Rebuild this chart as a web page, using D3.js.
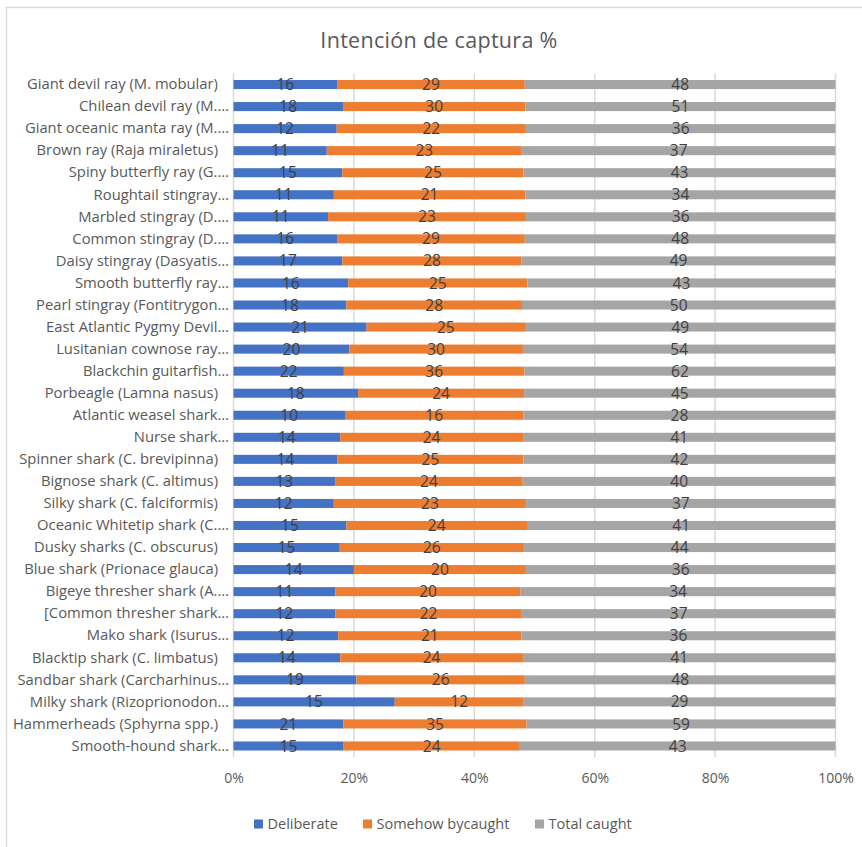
<!DOCTYPE html>
<html>
<head>
<meta charset="utf-8">
<script src="https://cdn.jsdelivr.net/npm/d3@7"></script>
<style>
  html, body { margin: 0; padding: 0; background: #fff; }
  svg { display: block; }
  text { font-family: "Open Sans", Lato, sans-serif; }
</style>
</head>
<body>
<svg id="chart" width="862" height="847"></svg>
<script>
// Species as shown on the category axis (top to bottom)
const categories = [
  "Giant devil ray (M. mobular)",
  "Chilean devil ray (M.\u2026",
  "Giant oceanic manta ray (M.\u2026",
  "Brown ray (Raja miraletus)",
  "Spiny butterfly ray (G.\u2026",
  "Roughtail stingray\u2026",
  "Marbled stingray (D.\u2026",
  "Common stingray (D.\u2026",
  "Daisy stingray (Dasyatis\u2026",
  "Smooth butterfly ray\u2026",
  "Pearl stingray (Fontitrygon\u2026",
  "East Atlantic Pygmy Devil\u2026",
  "Lusitanian cownose ray\u2026",
  "Blackchin guitarfish\u2026",
  "Porbeagle (Lamna nasus)",
  "Atlantic weasel shark\u2026",
  "Nurse shark\u2026",
  "Spinner shark (C. brevipinna)",
  "Bignose shark (C. altimus)",
  "Silky shark (C. falciformis)",
  "Oceanic Whitetip shark (C.\u2026",
  "Dusky sharks (C. obscurus)",
  "Blue shark (Prionace glauca)",
  "Bigeye thresher shark (A.\u2026",
  "[Common thresher shark\u2026",
  "Mako shark (Isurus\u2026",
  "Blacktip shark (C. limbatus)",
  "Sandbar shark (Carcharhinus\u2026",
  "Milky shark (Rizoprionodon\u2026",
  "Hammerheads (Sphyrna spp.)",
  "Smooth-hound shark\u2026"
];

const deliberate = [16, 18, 12, 11, 15, 11, 11, 16, 17, 16, 18, 21, 20, 22, 18, 10,
                    14, 14, 13, 12, 15, 15, 14, 11, 12, 12, 14, 19, 15, 21, 15];
const bycaught   = [29, 30, 22, 23, 25, 21, 23, 29, 28, 25, 28, 25, 30, 36, 24, 16,
                    24, 25, 24, 23, 24, 26, 20, 20, 22, 21, 24, 26, 12, 35, 24];
const totalCaught = [48, 51, 36, 37, 43, 34, 36, 48, 49, 43, 50, 49, 54, 62, 45, 28,
                     41, 42, 40, 37, 41, 44, 36, 34, 37, 36, 41, 48, 29, 59, 43];

const seriesNames = ["Deliberate", "Somehow bycaught", "Total caught"];
const tickValues = [0, 0.2, 0.4, 0.6, 0.8, 1];
const title = "Intenci\u00f3n de captura %";

const colors = ["#4472C4", "#ED7D31", "#A5A5A5"];

// Build row objects for the stack layout
const rows = categories.map((c, i) => ({
  name: c,
  [seriesNames[0]]: deliberate[i],
  [seriesNames[1]]: bycaught[i],
  [seriesNames[2]]: totalCaught[i]
}));

const stack = d3.stack().keys(seriesNames).offset(d3.stackOffsetExpand);
const stacked = stack(rows);

const svg = d3.select("#chart");

// Chart frame
svg.append("rect")
  .attr("x", 6.5).attr("y", 7.5)
  .attr("width", 900).attr("height", 900)
  .attr("fill", "none").attr("stroke", "#D9D9D9").attr("stroke-width", 1.3);

const x = d3.scaleLinear().domain([0, 1]).range([233.5, 835.5]);
const y = d3.scaleBand().domain(categories).range([73.5, 757]).paddingInner(0.59).paddingOuter(0.295);

// Title
svg.append("text")
  .attr("x", 439).attr("y", 48)
  .attr("text-anchor", "middle")
  .attr("font-size", 21.5)
  .attr("letter-spacing", 0.3)
  .attr("fill", "#595959")
  .text(title);

// Vertical gridlines
svg.append("g")
  .selectAll("line")
  .data(tickValues)
  .join("line")
  .attr("x1", d => x(d)).attr("x2", d => x(d))
  .attr("y1", 73.5).attr("y2", 757)
  .attr("stroke", "#D9D9D9").attr("stroke-width", 1.5);

// Bottom axis labels
const xAxis = d3.axisBottom(x)
  .tickValues(tickValues)
  .tickFormat(d3.format(".0%"))
  .tickSize(0)
  .tickPadding(0);

const gx = svg.append("g").attr("transform", "translate(0,773)").call(xAxis);
gx.select(".domain").remove();
gx.selectAll("text")
  .attr("font-size", 14)
  .attr("fill", "#595959")
  .style("font-family", "'Open Sans', Lato, sans-serif");

// Category axis labels
const yAxis = d3.axisLeft(y).tickSize(0).tickPadding(0);
const gy = svg.append("g").attr("transform", "translate(229,0)").call(yAxis);
gy.select(".domain").remove();
gy.selectAll("text")
  .attr("font-size", 14.8)
  .attr("fill", "#595959")
  .attr("dx", d => d.endsWith("\u2026") ? 0 : -11)
  .style("font-family", "'Open Sans', Lato, sans-serif");

// Bars
const layers = svg.append("g")
  .selectAll("g")
  .data(stacked)
  .join("g")
  .attr("fill", (d, i) => colors[i]);

layers.selectAll("rect")
  .data(d => d)
  .join("rect")
  .attr("x", d => x(d[0]))
  .attr("width", d => x(d[1]) - x(d[0]))
  .attr("y", d => y(d.data.name))
  .attr("height", y.bandwidth());

// Value labels centered in each segment
const labels = svg.append("g");
stacked.forEach(layer => {
  labels.selectAll(null)
    .data(layer)
    .join("text")
    .attr("x", d => (x(d[0]) + x(d[1])) / 2)
    .attr("y", d => y(d.data.name) + y.bandwidth() / 2)
    .attr("dy", "0.36em")
    .attr("text-anchor", "middle")
    .attr("font-size", 15.5)
    .attr("fill", "#404040")
    .text(d => d.data[layer.key]);
});

// Legend
const legendX = [254, 363, 535];
const legend = svg.append("g")
  .selectAll("g")
  .data(seriesNames)
  .join("g")
  .attr("transform", (d, i) => `translate(${legendX[i]},824)`);

legend.append("rect")
  .attr("x", 0).attr("y", -4.5)
  .attr("width", 9).attr("height", 9)
  .attr("fill", (d, i) => colors[i]);

legend.append("text")
  .attr("x", 13.5).attr("y", 0)
  .attr("dy", "0.35em")
  .attr("font-size", 14.5)
  .attr("fill", "#595959")
  .text(d => d);
</script>
</body>
</html>
